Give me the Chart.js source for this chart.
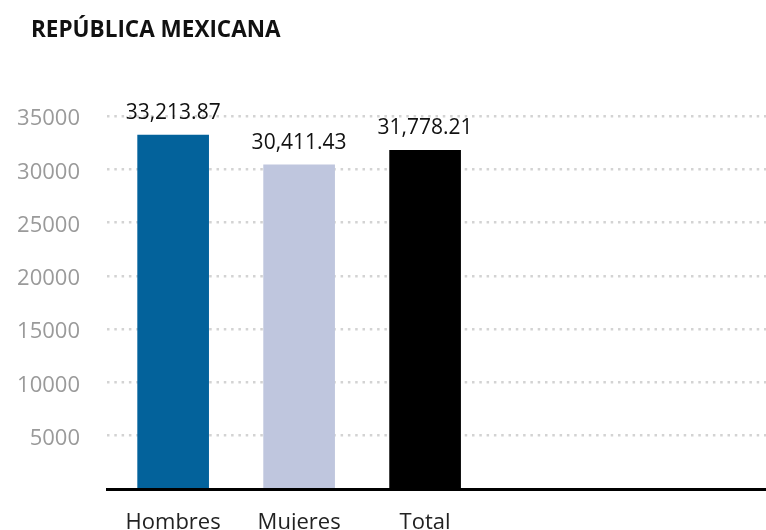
<!DOCTYPE html>
<html>
<head>
<meta charset="utf-8">
<script src="https://cdn.jsdelivr.net/npm/chart.js@4"></script>
<style>
html,body{margin:0;padding:0;background:#fff;}
#wrap{width:766px;height:530px;position:relative;}
</style>
</head>
<body>
<div id="wrap"><canvas id="c" width="766" height="530"></canvas></div>
<script>
const title = 'REPÚBLICA MEXICANA';
const categories = ['Hombres', 'Mujeres', 'Total'];
const values = [33213.87, 30411.43, 31778.21];
const barColors = ['#03629b', '#bfc6de', '#000000'];
const yTicks = [5000, 10000, 15000, 20000, 25000, 30000, 35000];

const FONT = "'Open Sans', 'Noto Sans', sans-serif";

const titlePlugin = {
  id: 'titleText',
  afterDraw(chart) {
    const ctx = chart.ctx;
    ctx.save();
    ctx.font = 'bold 22.5px ' + FONT;
    ctx.fillStyle = '#111';
    ctx.textAlign = 'left';
    ctx.textBaseline = 'alphabetic';
    ctx.fillText(title, 31, 37);
    ctx.restore();
  }
};

const valueLabels = {
  id: 'valueLabels',
  afterDatasetsDraw(chart) {
    const ctx = chart.ctx;
    const meta = chart.getDatasetMeta(0);
    ctx.save();
    ctx.font = '21px ' + FONT;
    ctx.fillStyle = '#111';
    ctx.textAlign = 'center';
    ctx.textBaseline = 'alphabetic';
    meta.data.forEach((bar, i) => {
      const txt = values[i].toLocaleString('en-US', {minimumFractionDigits: 2, maximumFractionDigits: 2});
      ctx.fillText(txt, bar.x, bar.y - 16);
    });
    ctx.restore();
  }
};

new Chart(document.getElementById('c'), {
  type: 'bar',
  data: {
    datasets: [{
      data: values.map((v, i) => ({x: i, y: v})),
      backgroundColor: barColors,
      borderWidth: 0,
      barThickness: 71
    }]
  },
  options: {
    responsive: false,
    animation: false,
    layout: {padding: {top: 116, right: 0, bottom: 0, left: 0}},
    plugins: {legend: {display: false}, tooltip: {enabled: false}, title: {display: false}},
    scales: {
      x: {
        type: 'linear',
        min: -0.525,
        max: 4.706,
        offset: false,
        grid: {display: false, drawTicks: false},
        border: {display: true, color: '#000', width: 3},
        ticks: {
          autoSkip: false,
          maxRotation: 0,
          padding: 21,
          color: '#222',
          font: {family: FONT, size: 22},
          callback: (v) => (categories[v] !== undefined) ? categories[v] : ''
        },
        afterBuildTicks: (s) => { s.ticks = categories.map((c, i) => ({value: i})); },
        afterFit: (s) => { s.height = 41; s.paddingLeft = 0; s.paddingRight = 0; }
      },
      y: {
        min: 0,
        max: 35000,
        grid: {
          drawTicks: false,
          lineWidth: 2.5,
          color: (c) => (c.tick && c.tick.value === 0) ? 'rgba(0,0,0,0)' : '#d3d3d3'
        },
        border: {display: false, dash: [2.5, 4.8]},
        ticks: {
          stepSize: 5000,
          padding: 27,
          labelOffset: 3,
          color: '#9a9a9a',
          font: {family: FONT, size: 22},
          callback: (v) => yTicks.includes(v) ? String(v) : ''
        },
        afterFit: (s) => { s.width = 107; }
      }
    }
  },
  plugins: [titlePlugin, valueLabels]
});
</script>
</body>
</html>
